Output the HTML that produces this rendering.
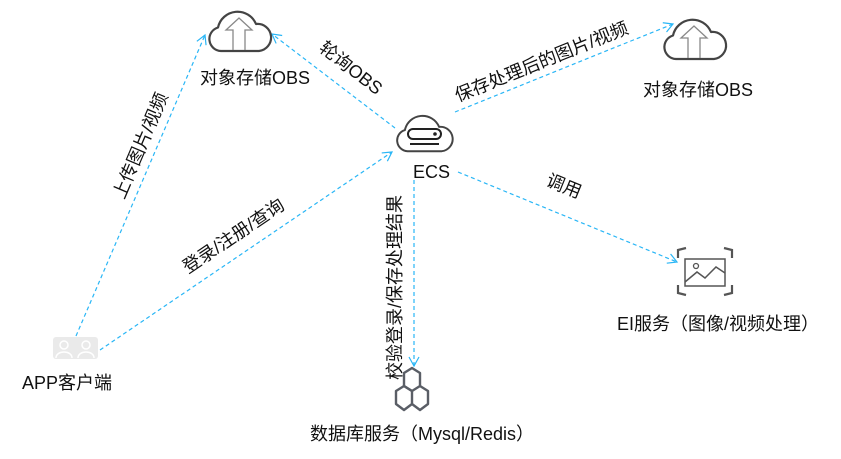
<!DOCTYPE html>
<html><head><meta charset="utf-8"><style>
body{margin:0;background:#fff;}
svg text{font-family:"Liberation Sans","Noto Sans CJK SC",sans-serif;font-size:18px;fill:#111;}
</style></head><body>
<svg width="841" height="454" viewBox="0 0 841 454" xmlns="http://www.w3.org/2000/svg">
<defs>
<marker id="a" markerWidth="12" markerHeight="12" refX="10" refY="6" orient="auto" markerUnits="userSpaceOnUse">
<path d="M1,1 L10,6 L1,11" fill="none" stroke="#29b6f6" stroke-width="1.2"/></marker>
<g id="cloud"><path d="M14,48 A12,12 0 0 1 11,24.5 A20,20 0 0 1 49,21 A13.5,13.5 0 0 1 52,48 Z" fill="#fff" stroke="#444" stroke-width="2.2" stroke-linejoin="round"/></g>
</defs>
<g stroke="#29b6f6" stroke-width="1.2" stroke-dasharray="4,3" fill="none">
<line x1="76" y1="336" x2="205" y2="35" marker-end="url(#a)"/>
<line x1="100" y1="350" x2="392" y2="152" marker-end="url(#a)"/>
<line x1="395" y1="128" x2="272" y2="34" marker-end="url(#a)"/>
<line x1="455" y1="112" x2="673" y2="24" marker-end="url(#a)"/>
<line x1="458" y1="172" x2="677" y2="262" marker-end="url(#a)"/>
<line x1="414" y1="180" x2="414" y2="366" marker-end="url(#a)"/>
</g>
<!-- OBS1 -->
<use href="#cloud" transform="translate(207,3)"/>
<path d="M233,50 L233,30 L226,30 L239,18 L252,30 L245,30 L245,50" fill="none" stroke="#888" stroke-width="1.3"/>
<text x="200" y="84">对象存储OBS</text>
<!-- OBS2 -->
<use href="#cloud" transform="translate(662,11)"/>
<path d="M688,58 L688,38 L681,38 L694,26 L707,38 L700,38 L700,58" fill="none" stroke="#888" stroke-width="1.3"/>
<text x="643" y="96">对象存储OBS</text>
<!-- ECS -->
<g transform="translate(395,108) scale(0.9,0.9)"><use href="#cloud"/></g>
<rect x="408" y="129" width="33" height="10" rx="5" fill="none" stroke="#222" stroke-width="2"/>
<circle cx="435" cy="134" r="1.8" fill="#222"/>
<line x1="410" y1="144" x2="439" y2="144" stroke="#222" stroke-width="2"/>
<text x="413" y="178">ECS</text>
<!-- EI -->
<g fill="none" stroke="#555" stroke-width="2.2">
<path d="M678,258 L678,250 L686,248 M724,248 L732,250 L732,258 M732,285 L732,293 L724,295 M686,295 L678,293 L678,285"/>
</g>
<rect x="685" y="259" width="40" height="27" fill="none" stroke="#555" stroke-width="1.5"/>
<path d="M685,282 L697,272 L705,278 L716,267 L725,273" fill="none" stroke="#555" stroke-width="1.5"/>
<circle cx="696" cy="266" r="2.5" fill="none" stroke="#555" stroke-width="1.3"/>
<text x="617" y="330">EI服务（图像/视频处理）</text>
<!-- DB -->
<g fill="none" stroke="#5a5e66" stroke-width="2.4" stroke-linejoin="round">
<path d="M404,373 L412,368 L420,373 L420,386 L412,391 L404,386 Z"/>
<path d="M404,386 L412,391 L412,404 L404,410 L396,404 L396,391 Z"/>
<path d="M420,386 L428,391 L428,404 L420,410 L412,404"/>
</g>
<text x="310" y="440">数据库服务（Mysql/Redis）</text>
<!-- APP -->
<g fill="#eaeaea"><rect x="53" y="337" width="45" height="22" rx="3"/></g>
<g fill="none" stroke="#fff" stroke-width="1.5"><circle cx="64" cy="345" r="4"/><circle cx="86" cy="345" r="4"/><path d="M56,358 C56,350 72,350 72,358 M78,358 C78,350 94,350 94,358"/></g>
<text x="22" y="389">APP客户端</text>
<!-- Edge labels -->
<text transform="translate(124,200) rotate(-67)">上传图片/视频</text>
<text transform="translate(188,274) rotate(-34)">登录/注册/查询</text>
<text transform="translate(318,50) rotate(38)">轮询OBS</text>
<text transform="translate(458,102) rotate(-22)">保存处理后的图片/视频</text>
<text transform="translate(545,185) rotate(22)">调用</text>
<text transform="translate(401,380) rotate(-90)">校验登录/保存处理结果</text>
</svg>
</body></html>
